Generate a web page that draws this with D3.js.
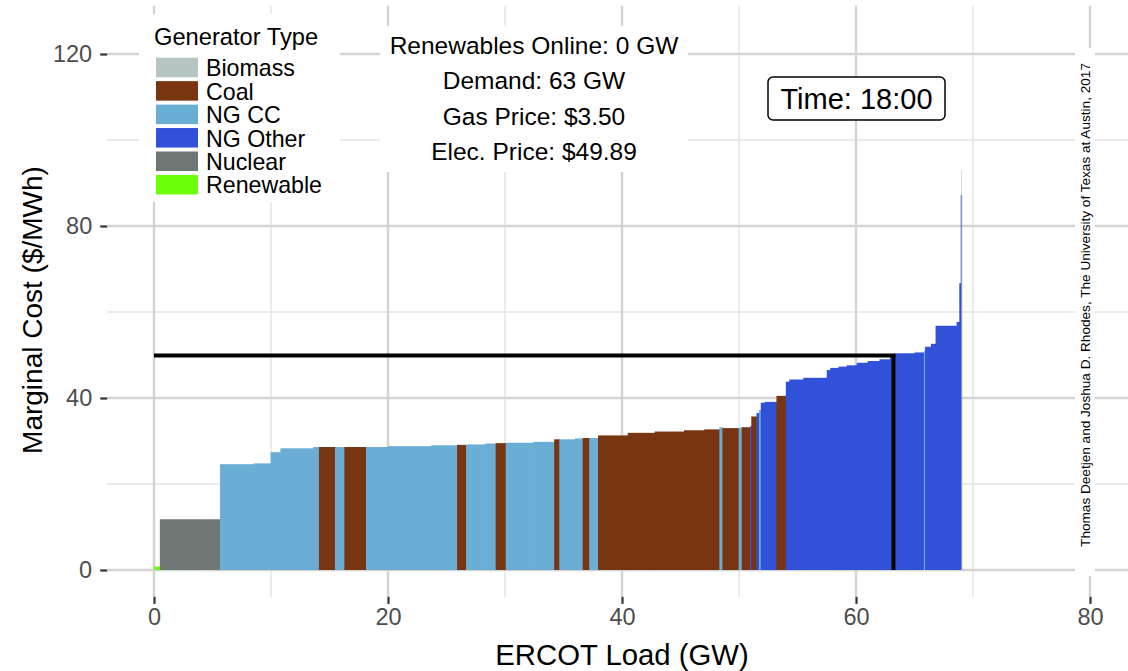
<!DOCTYPE html>
<html>
<head>
<meta charset="utf-8">
<script src="https://cdn.jsdelivr.net/npm/d3@7"></script>
<style>
  html, body { margin: 0; padding: 0; background: #ffffff; }
  svg { display: block; }
  text { font-family: "Liberation Sans", Arial, Helvetica, sans-serif; }
</style>
</head>
<body>
<svg id="chart" width="1128" height="671"></svg>
<script>
// ERCOT merit-order supply stack at 18:00: one entry per generator block,
// in dispatch order (capacity in GW, marginal cost in $/MWh).
const genType = [
  "Renewable", "Nuclear",
  "NG CC", "NG CC", "NG CC", "NG CC", "NG CC",
  "Coal", "NG CC", "Coal",
  "NG CC", "NG CC", "NG CC",
  "Coal", "NG CC", "NG CC",
  "Coal", "NG CC", "NG CC",
  "Coal", "NG CC", "NG CC",
  "Coal", "NG CC",
  "Coal", "Coal", "Coal", "Coal", "Coal",
  "NG CC", "Coal", "NG CC", "Coal",
  "NG Other", "Coal", "NG Other", "NG CC", "NG Other", "NG Other",
  "Coal",
  "NG Other", "NG Other", "NG Other", "NG Other", "NG Other", "NG Other", "NG Other",
  "NG Other", "NG Other", "NG Other", "NG Other", "NG Other", "NG Other",
  "NG CC",
  "NG Other", "NG Other", "NG Other", "NG Other", "NG Other", "NG Other",
  "Biomass"
];
const capacityGW = [
  0.50, 5.14,
  2.85, 1.48, 0.83, 2.80, 0.50,
  1.37, 0.80, 1.85,
  1.88, 3.70, 2.20,
  0.77, 1.63, 0.90,
  0.86, 2.34, 1.80,
  0.44, 1.34, 0.66,
  0.56, 0.75,
  2.54, 2.31, 2.50, 1.73, 1.29,
  0.26, 1.39, 0.26, 0.71,
  0.11, 0.45, 0.22, 0.14, 0.34, 1.00,
  0.80,
  0.30, 1.20, 2.00, 0.30, 0.70, 0.70, 0.86,
  0.94, 1.00, 0.90, 0.40, 1.70, 0.80,
  0.10,
  0.50, 0.40, 1.80, 0.23, 0.12, 0.06,
  0.05
];
const costUSD = [
  0.8, 11.8,
  24.6, 24.8, 27.4, 28.3, 28.6,
  28.6, 28.6, 28.6,
  28.6, 28.8, 29.0,
  29.1, 29.2, 29.4,
  29.5, 29.6, 29.8,
  30.4, 30.4, 30.6,
  30.7, 30.7,
  31.3, 31.9, 32.2, 32.5, 32.7,
  33.2, 33.0, 33.1, 33.2,
  33.4, 35.7, 36.5, 37.2, 38.9, 39.1,
  40.5,
  43.8, 44.3, 44.7, 46.5, 47.0, 47.3, 47.6,
  48.2, 48.6, 49.0, 49.89, 50.4, 50.6,
  51.0,
  51.9, 52.6, 56.8, 57.7, 66.7, 87.2,
  93.0
];

// Legend categories and their fills
const typeNames = ["Biomass", "Coal", "NG CC", "NG Other", "Nuclear", "Renewable"];
const typeColors = ["#b7c4c4", "#773512", "#6aaed6", "#3251d9", "#6f7775", "#6cff0a"];

// Axis ticks
const xMajor = [0, 20, 40, 60, 80];
const xMinor = [10, 30, 50, 70];
const yMajor = [0, 40, 80, 120];
const yMinor = [20, 60, 100];

// Dispatch annotations
const renewablesOnline = 0;
const demandGW = 63.2;
const gasPrice = 3.50;
const elecPrice = 49.89;
const hourLabel = "18:00";
const credit = "Thomas Deetjen and Joshua D. Rhodes, The University of Texas at Austin, 2017";

const svg = d3.select("#chart");
const W = 1128, H = 671;

const x = d3.scaleLinear().domain([0, 80]).range([154, 1090]);
const y = d3.scaleLinear().domain([0, 120]).range([570, 54]);
const color = d3.scaleOrdinal().domain(typeNames).range(typeColors);

// panel extent (limits padded like ggplot's default expansion)
const px0 = x(-4), px1 = x(84);
const py0 = y(131.25), py1 = y(-6.25);

svg.append("rect").attr("width", W).attr("height", H).attr("fill", "#ffffff");

const grid = svg.append("g");
grid.selectAll("line.xminor").data(xMinor).join("line")
  .attr("x1", d => x(d)).attr("x2", d => x(d)).attr("y1", py0).attr("y2", py1)
  .attr("stroke", "#e3e3e3").attr("stroke-width", 1.4);
grid.selectAll("line.yminor").data(yMinor).join("line")
  .attr("y1", d => y(d)).attr("y2", d => y(d)).attr("x1", px0).attr("x2", px1)
  .attr("stroke", "#e3e3e3").attr("stroke-width", 1.4);
grid.selectAll("line.xmajor").data(xMajor).join("line")
  .attr("x1", d => x(d)).attr("x2", d => x(d)).attr("y1", py0).attr("y2", py1)
  .attr("stroke", "#d3d3d3").attr("stroke-width", 2.4);
grid.selectAll("line.ymajor").data(yMajor).join("line")
  .attr("y1", d => y(d)).attr("y2", d => y(d)).attr("x1", px0).attr("x2", px1)
  .attr("stroke", "#d3d3d3").attr("stroke-width", 2.4);

// supply stack blocks; each block overlaps the next by a hair so no seam shows
const starts = [0, ...d3.cumsum(capacityGW)];
const blocks = genType.map((t, i) => ({
  type: t, x0: starts[i], x1: starts[i + 1], cost: costUSD[i]
}));
svg.append("g").selectAll("rect").data(blocks).join("rect")
  .attr("x", d => x(d.x0))
  .attr("width", (d, i) => x(d.x1) - x(d.x0) + (i < blocks.length - 1 ? 0.7 : 0))
  .attr("y", d => y(d.cost))
  .attr("height", d => y(0) - y(d.cost))
  .attr("fill", d => color(d.type));

// clearing price and demand
const clear = svg.append("g").attr("stroke", "#000").attr("stroke-width", 4).attr("fill", "none");
clear.append("line")
  .attr("x1", x(0)).attr("x2", x(demandGW) + 2)
  .attr("y1", y(elecPrice)).attr("y2", y(elecPrice));
clear.append("line")
  .attr("x1", x(demandGW)).attr("x2", x(demandGW))
  .attr("y1", y(elecPrice)).attr("y2", y(0));

// axes
const fontTick = 23.5;
const yAxis = d3.axisLeft(y).tickValues(yMajor).tickSize(7).tickPadding(8);
const gy = svg.append("g").attr("transform", `translate(${px0},0)`).call(yAxis);
const xAxis = d3.axisBottom(x).tickValues(xMajor).tickSize(7).tickPadding(4);
const gx = svg.append("g").attr("transform", `translate(0,${py1})`).call(xAxis);
[gx, gy].forEach(g => {
  g.select(".domain").remove();
  g.selectAll(".tick line").attr("stroke", "#333333").attr("stroke-width", 2.2);
  g.selectAll(".tick text").attr("fill", "#4d4d4d")
    .style("font-size", fontTick + "px")
    .style("font-family", '"Liberation Sans", Arial, Helvetica, sans-serif');
});

svg.append("text")
  .attr("x", (px0 + px1) / 2).attr("y", 665)
  .attr("text-anchor", "middle").attr("font-size", 29.3).attr("fill", "#000")
  .text("ERCOT Load (GW)");
svg.append("text")
  .attr("transform", `translate(42,310) rotate(-90)`)
  .attr("text-anchor", "middle").attr("font-size", 28).attr("fill", "#000")
  .text("Marginal Cost ($/MWh)");

// legend
const leg = svg.append("g");
leg.append("rect").attr("x", 139).attr("y", 14).attr("width", 201).attr("height", 188).attr("fill", "#ffffff");
leg.append("text").attr("x", 154).attr("y", 45).attr("font-size", 23.7).attr("fill", "#000").text("Generator Type");
const rows = leg.selectAll("g.row").data(typeNames).join("g")
  .attr("transform", (d, i) => `translate(156,${57.7 + i * 23.45})`);
rows.append("rect").attr("width", 42).attr("height", 19.5).attr("fill", d => color(d));
rows.append("text").attr("x", 50).attr("y", 18.5).attr("font-size", 23.2).attr("fill", "#000").text(d => d);

// dispatch summary
const info = [
  `Renewables Online: ${renewablesOnline} GW`,
  `Demand: ${Math.round(demandGW)} GW`,
  `Gas Price: $${gasPrice.toFixed(2)}`,
  `Elec. Price: $${elecPrice.toFixed(2)}`
];
const ig = svg.append("g");
ig.append("rect").attr("x", 380).attr("y", 26).attr("width", 308).attr("height", 146).attr("fill", "#ffffff");
ig.selectAll("text").data(info).join("text")
  .attr("x", 534).attr("y", (d, i) => 54 + i * 35.3)
  .attr("text-anchor", "middle").attr("font-size", 24.5).attr("fill", "#000")
  .text(d => d);

// time label
const tg = svg.append("g");
tg.append("rect").attr("x", 768).attr("y", 77).attr("width", 177).attr("height", 43)
  .attr("rx", 5).attr("fill", "#ffffff").attr("stroke", "#000").attr("stroke-width", 1.5);
tg.append("text").attr("x", 856.5).attr("y", 109).attr("text-anchor", "middle")
  .attr("font-size", 29).attr("fill", "#000").text(`Time: ${hourLabel}`);

// credit line
const cg = svg.append("g");
cg.append("rect").attr("x", 1075).attr("y", 48).attr("width", 20).attr("height", 528).attr("fill", "#ffffff");
cg.append("text")
  .attr("transform", `translate(1089.5,305) rotate(-90)`)
  .attr("text-anchor", "middle").attr("font-size", 13.6).attr("fill", "#000")
  .text(credit);
</script>
</body>
</html>
